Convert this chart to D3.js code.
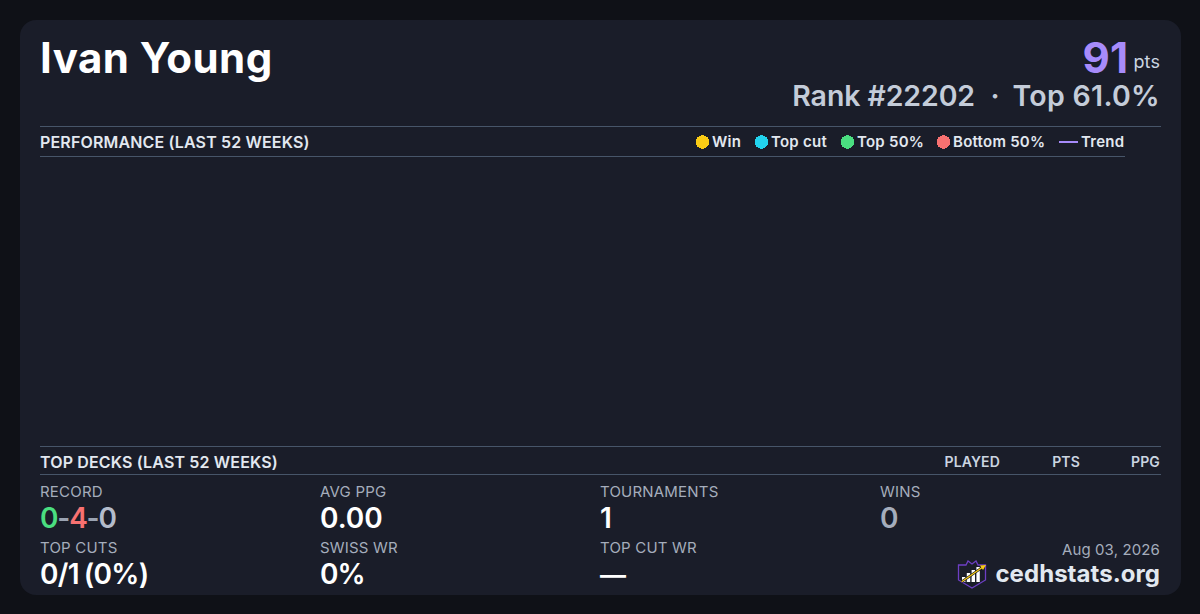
<!DOCTYPE html>
<html>
<head>
<meta charset="utf-8">
<script src="https://cdn.jsdelivr.net/npm/d3@7"></script>
<style>
html, body { margin: 0; padding: 0; background: #0f1117; }
svg { display: block; }
text { font-family: Inter, sans-serif; white-space: pre; }
</style>
</head>
<body>
<svg id="card" width="1200" height="614"></svg>
<script>
var legendLabels = ['Win', 'Top cut', 'Top 50%', 'Bottom 50%', 'Trend'];
var legendColors = ['#facc15', '#22d3ee', '#4ade80', '#f87171', '#a78bfa'];
var legendX = [696, 755, 841, 937, 1059];
var deckColumns = ['PLAYED', 'PTS', 'PPG'];
var deckColumnX = [1000, 1080, 1160];
var statLabels = ['RECORD', 'AVG PPG', 'TOURNAMENTS', 'WINS', 'TOP CUTS', 'SWISS WR', 'TOP CUT WR'];
var statValues = [null, '0.00', '1', '0', null, '0%', '—'];
var statColumn = [0, 1, 2, 3, 0, 1, 2];
var statRow = [0, 0, 0, 0, 1, 1, 1];
var recordParts = ['0', '-', '4', '-', '0'];
var recordColors = ['#4ade80', '#9aa3b2', '#f87171', '#9aa3b2', '#b4bccb'];
var cutParts = ['0/1', '(0%)'];
var logoBars = [5, 9, 12, 15];

var svg = d3.select('#card');

var columnX = d3.scaleLinear().domain([0, 3]).range([40, 880]);
var rowY = d3.scalePoint().domain([0, 1]).range([0, 56]);

function addText(x, y, str, size, weight, fill, anchor, spacing) {
    return svg.append('text')
        .attr('x', x)
        .attr('y', y)
        .attr('font-size', size)
        .attr('font-weight', weight)
        .attr('fill', fill)
        .attr('text-anchor', anchor || 'start')
        .attr('letter-spacing', spacing || 0)
        .text(str);
}

function addRule(x1, x2, y) {
    svg.append('line')
        .attr('x1', x1).attr('x2', x2)
        .attr('y1', y).attr('y2', y)
        .attr('stroke', '#475569')
        .attr('stroke-width', 1)
        .attr('shape-rendering', 'crispEdges');
}

svg.append('rect')
    .attr('x', 20).attr('y', 20)
    .attr('width', 1161).attr('height', 575)
    .attr('rx', 16)
    .attr('fill', '#1a1d29');

/*
 Header
 */

addText(40, 73, 'Ivan Young', 42, 700, '#ffffff', 'start', 0.45);
addText(1128, 73, '91', 42, 700, '#a78bfa', 'end');
addText(1160, 68, 'pts', 18, 400, '#cbd5e1', 'end', 0.1);
addText(975, 106, 'Rank #22202', 28.5, 600, '#c4ccd9', 'end', -0.1);
addText(995, 106, '·', 28.5, 600, '#c4ccd9', 'middle');
addText(1160, 106, 'Top 61.0%', 28.5, 600, '#c4ccd9', 'end', 0.3);

/*
 Performance section
 */

addRule(40, 1161, 126.5);
addRule(40, 1125, 156.5);
addText(40, 148, 'PERFORMANCE (LAST 52 WEEKS)', 16, 600, '#e2e8f0', 'start', 0.15);

var legend = svg.selectAll('.legend')
    .data(legendLabels)
    .enter().append('g')
    .classed('legend', true)
    .attr('transform', function (d, i) {
        return 'translate(' + legendX[i] + ',142)';
    });

legend.each(function (d, i) {
    var g = d3.select(this);
    if (d === 'Trend') {
        g.append('line')
            .attr('x1', 0).attr('x2', 19)
            .attr('stroke', legendColors[i])
            .attr('stroke-width', 2);
    } else {
        g.append('circle')
            .attr('cx', 6.5)
            .attr('r', 6.8)
            .attr('fill', legendColors[i])
            .attr('shape-rendering', 'crispEdges');
    }
    g.append('text')
        .attr('x', d === 'Trend' ? 22 : 16)
        .attr('y', 5)
        .attr('font-size', 15)
        .attr('font-weight', 600)
        .attr('letter-spacing', 0.25)
        .attr('fill', '#e2e8f0')
        .text(d);
});

/*
 Top decks section
 */

addRule(40, 1161, 446.5);
addRule(40, 1161, 474.5);
addText(40, 468, 'TOP DECKS (LAST 52 WEEKS)', 16, 600, '#e2e8f0', 'start', 0.15);

svg.selectAll('.deckColumn')
    .data(deckColumns)
    .enter().append('text')
    .classed('deckColumn', true)
    .attr('x', function (d, i) { return deckColumnX[i]; })
    .attr('y', 467)
    .attr('text-anchor', 'end')
    .attr('font-size', 14)
    .attr('font-weight', 600)
    .attr('letter-spacing', 0.15)
    .attr('fill', '#cbd5e1')
    .text(function (d) { return d; });

/*
 Stats grid
 */

var stats = svg.selectAll('.stat')
    .data(statLabels)
    .enter().append('g')
    .classed('stat', true)
    .attr('transform', function (d, i) {
        return 'translate(' + columnX(statColumn[i]) + ',' + rowY(statRow[i]) + ')';
    });

stats.append('text')
    .attr('y', 497)
    .attr('font-size', 15)
    .attr('letter-spacing', 0.2)
    .attr('fill', '#a5adbc')
    .text(function (d) { return d; });

stats.append('text')
    .attr('y', 528)
    .attr('font-size', 28)
    .attr('font-weight', 600)
    .attr('fill', function (d, i) { return statLabels[i] === 'WINS' ? '#a5adbc' : '#ffffff'; })
    .each(function (d, i) {
        var t = d3.select(this);
        if (statLabels[i] === 'RECORD') {
            t.selectAll('tspan')
                .data(recordParts)
                .enter().append('tspan')
                .attr('fill', function (p, j) { return recordColors[j]; })
                .attr('letter-spacing', -1.2)
                .text(function (p) { return p; });
        } else if (statLabels[i] === 'TOP CUTS') {
            t.selectAll('tspan')
                .data(cutParts)
                .enter().append('tspan')
                .attr('dx', function (p, j) { return j ? 5 : 0; })
                .attr('letter-spacing', -0.7)
                .text(function (p) { return p; });
        } else if (statLabels[i] === 'SWISS WR') {
            t.attr('letter-spacing', -0.9).text(statValues[i]);
        } else if (statLabels[i] === 'TOP CUT WR') {
            t.attr('font-size', 26).text(statValues[i]);
        } else {
            t.text(statValues[i]);
        }
    });

/*
 Footer
 */

addText(1160, 555, 'Aug 03, 2026', 15, 400, '#a5adbc', 'end', 0.12);
addText(1160, 582, 'cedhstats.org', 24, 700, '#e2e8f0', 'end', 0.05);

var logo = svg.append('g').attr('transform', 'translate(958,560)');
logo.append('path')
    .attr('d', 'M0.5 5 L8 5 L10 1 L14 4 L18 1 L20 5 L27.5 5 L27.5 20 L14 28 L0.5 20 Z')
    .attr('fill', 'none')
    .attr('stroke', '#6d3fc4')
    .attr('stroke-width', 1.3);
logo.selectAll('rect')
    .data(logoBars)
    .enter().append('rect')
    .attr('x', function (d, i) { return 4 + i * 4.8; })
    .attr('width', 3.4)
    .attr('y', function (d) { return 22 - d; })
    .attr('height', function (d) { return d; })
    .attr('fill', '#ffffff');
logo.append('line')
    .attr('x1', 3.7).attr('y1', 21.7)
    .attr('x2', 26).attr('y2', 6.3)
    .attr('stroke', '#111318')
    .attr('stroke-width', 2.6);
logo.append('line')
    .attr('x1', 3.7).attr('y1', 21.7)
    .attr('x2', 26).attr('y2', 6.3)
    .attr('stroke', '#facc15')
    .attr('stroke-width', 1.3);
logo.append('path')
    .attr('d', 'M28 5 L22 5.5 L25 10 Z')
    .attr('fill', '#facc15');
</script>
</body>
</html>
